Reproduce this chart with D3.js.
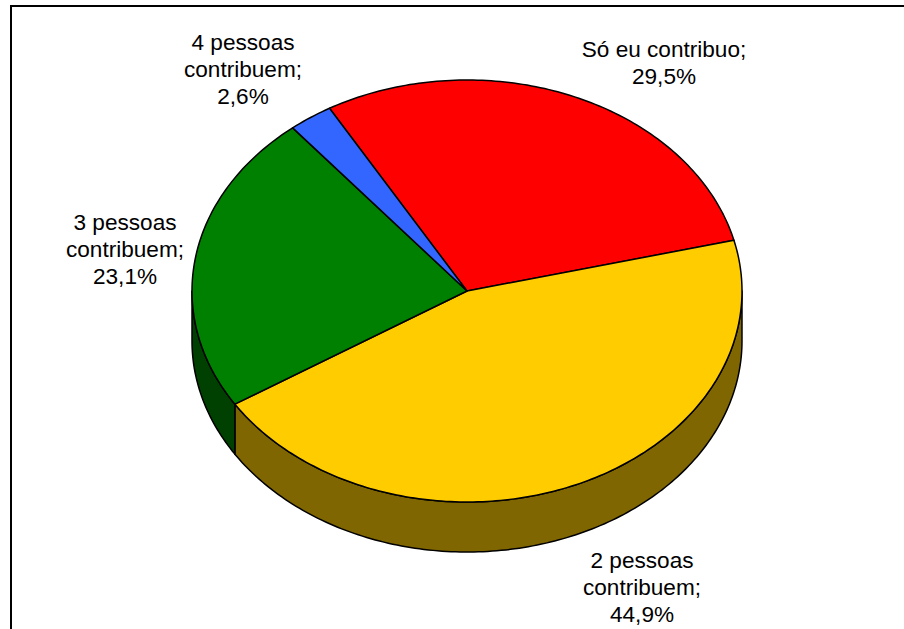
<!DOCTYPE html>
<html>
<head>
<meta charset="utf-8">
<script src="https://cdn.jsdelivr.net/npm/d3@7"></script>
<style>
  html, body { margin: 0; padding: 0; background: #fff; overflow: hidden; }
  text { font-family: "Liberation Sans", Arial, sans-serif; font-size: 22.6px; fill: #000; }
</style>
</head>
<body>
<div id="chart"></div>
<script>
const categories = ['Só eu contribuo', '2 pessoas contribuem', '3 pessoas contribuem', '4 pessoas contribuem']
const values = [29.5, 44.9, 23.1, 2.6]
const topColors = ['#ff0000', '#ffcc00', '#008000', '#3366ff']
const sideColors = ['#800000', '#806600', '#004000', '#1a3380']

const width = 904
const height = 629
const cx = 467
const cy = 291
const rx = 275
const ry = 211
const depth = 50
const startAngle = -30 * Math.PI / 180

const svg = d3
  .select('#chart')
  .append('svg')
  .attr('width', width)
  .attr('height', height)

// frame runs off the right and bottom of the picture
svg
  .append('rect')
  .attr('x', 11)
  .attr('y', 6)
  .attr('width', width + 20)
  .attr('height', height + 20)
  .attr('fill', 'none')
  .attr('stroke', '#000')
  .attr('stroke-width', 2)

const x = d3.scaleLinear().domain([-1, 1]).range([cx - rx, cx + rx])
const y = d3.scaleLinear().domain([-1, 1]).range([cy - ry, cy + ry])

const pie = d3
  .pie()
  .sort(null)
  .startAngle(startAngle)
  .endAngle(startAngle + 2 * Math.PI)
const slices = pie(values)

function rimPoint(a, drop) {
  return [x(Math.sin(a)), y(-Math.cos(a)) + drop]
}

function angleSteps(a0, a1) {
  const n = Math.max(2, Math.ceil((a1 - a0) * 60))
  return d3.range(n + 1).map(i => a0 + (a1 - a0) * i / n)
}

const line = d3.line()

// side wall, only the part of a slice facing the viewer (90deg to 270deg)
function sidePath(d) {
  const a0 = Math.max(d.startAngle, Math.PI / 2)
  const a1 = Math.min(d.endAngle, 1.5 * Math.PI)
  if (a1 <= a0) return null
  const steps = angleSteps(a0, a1)
  const upper = steps.map(a => rimPoint(a, 0))
  const lower = steps.slice().reverse().map(a => rimPoint(a, depth))
  return line(upper.concat(lower)) + 'Z'
}

function topPath(d) {
  const rim = angleSteps(d.startAngle, d.endAngle).map(a => rimPoint(a, 0))
  return line([[x(0), y(0)]].concat(rim)) + 'Z'
}

svg
  .append('g')
  .selectAll('path')
  .data(slices.filter(d => sidePath(d)))
  .enter()
  .append('path')
  .attr('d', sidePath)
  .attr('fill', d => sideColors[d.index])
  .attr('stroke', '#000')
  .attr('stroke-width', 1.5)
  .attr('stroke-linejoin', 'round')

svg
  .append('g')
  .selectAll('path')
  .data(slices)
  .enter()
  .append('path')
  .attr('d', topPath)
  .attr('fill', d => topColors[d.index])
  .attr('stroke', '#000')
  .attr('stroke-width', 1.5)
  .attr('stroke-linejoin', 'round')

// label lines are wrapped the way the original wraps them
const labelLines = [
  ['Só eu contribuo;', '29,5%'],
  ['2 pessoas', 'contribuem;', '44,9%'],
  ['3 pessoas', 'contribuem;', '23,1%'],
  ['4 pessoas', 'contribuem;', '2,6%']
]
const labelX = [664, 642, 125, 243]
const labelY = [57, 568, 230, 50]
const lineGap = 27

svg
  .append('g')
  .selectAll('text')
  .data(labelLines)
  .enter()
  .append('text')
  .attr('text-anchor', 'middle')
  .attr('transform', (d, i) => 'translate(' + labelX[i] + ',' + labelY[i] + ')')
  .selectAll('tspan')
  .data(d => d)
  .enter()
  .append('tspan')
  .attr('x', 0)
  .attr('y', (d, i) => i * lineGap)
  .text(d => d)
</script>
</body>
</html>
